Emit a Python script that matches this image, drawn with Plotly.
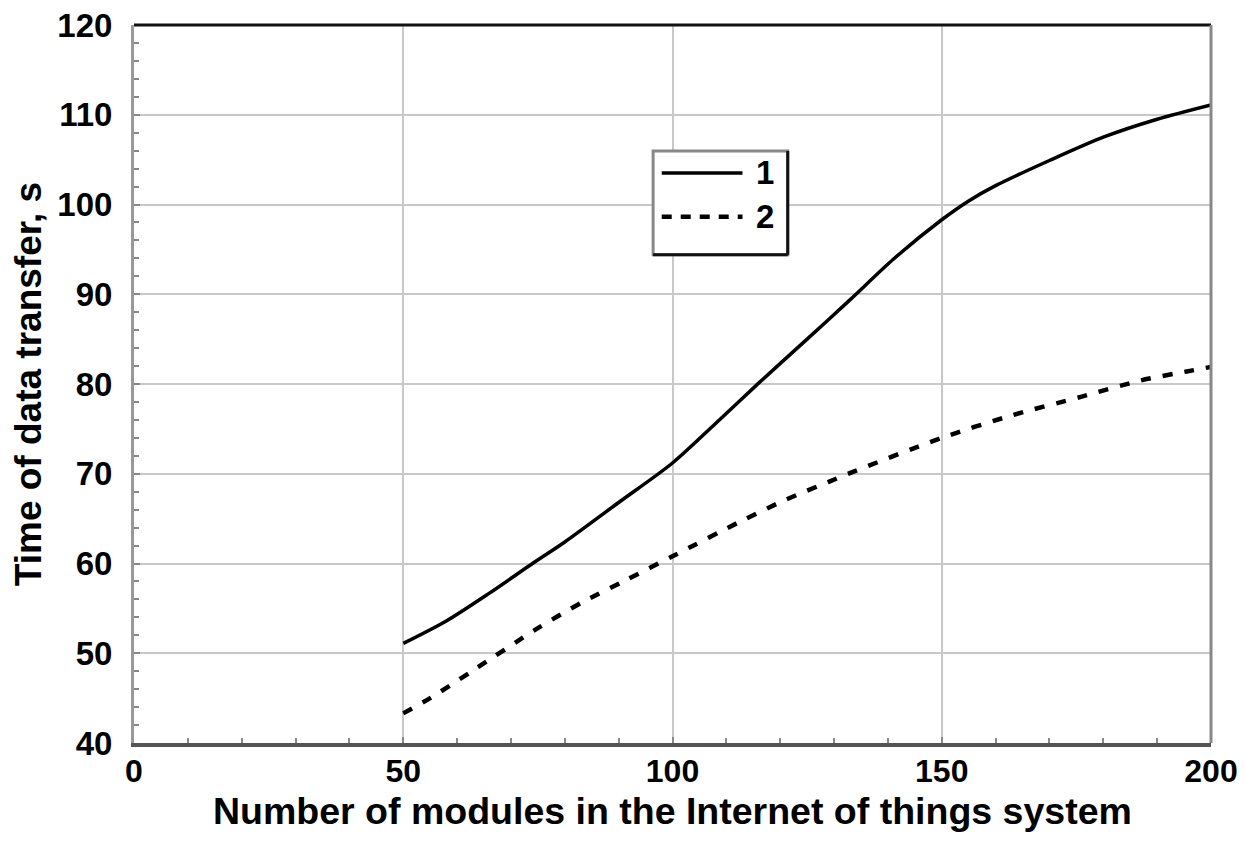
import plotly.graph_objects as go

x1 = [50, 58, 66, 74, 80, 90, 100, 108, 116, 125, 133, 141, 150, 155, 160, 170, 180, 190, 200]
y1 = [51.1, 53.6, 56.7, 60.0, 62.4, 66.8, 71.2, 75.6, 80.1, 85.0, 89.4, 93.9, 98.3, 100.4, 102.1, 104.9, 107.5, 109.5, 111.1]
x2 = [50, 55, 63, 75, 83, 91.5, 100, 113, 121, 129, 133.5, 150, 163, 176, 187, 195.5, 200]
y2 = [43.3, 45.0, 48.1, 52.8, 55.6, 58.2, 60.8, 64.8, 67.1, 69.1, 70.2, 74.0, 76.5, 78.6, 80.4, 81.4, 81.9]
names = ["1", "2"]
xticks = [0, 50, 100, 150, 200]
yticks = [40, 50, 60, 70, 80, 90, 100, 110, 120]

FONT = "Liberation Sans, Arial"
TICKFONT = dict(family=FONT, size=33, color="black", weight="bold")

fig = go.Figure()
fig.add_trace(go.Scatter(x=x1, y=y1, mode="lines", name=names[0],
                         line=dict(color="black", width=3.5, shape="spline", smoothing=0.8), showlegend=False))
fig.add_trace(go.Scatter(x=x2, y=y2, mode="lines", name=names[1],
                         line=dict(color="black", width=4.5, dash="10px,12px", shape="spline", smoothing=0.8), showlegend=False))

axis_common = dict(showgrid=True, gridcolor="#c8c8c8", gridwidth=2, zeroline=False, automargin=False,
                   ticklabeloverflow="allow",
                   ticks="inside", ticklen=6, tickwidth=2, tickcolor="#888")

fig.update_xaxes(range=[0, 200], tickvals=xticks, showline=True, linecolor="#555", linewidth=4,
                 ticklabelstandoff=-3, tickfont=dict(family=FONT, size=32, color="black", weight="bold"),
                 minor=dict(dtick=10, ticks="inside", ticklen=5, tickwidth=2, tickcolor="#888", showgrid=False),
                 **axis_common)
fig.update_yaxes(range=[40, 120], tickvals=yticks, showline=True, linecolor="#999", linewidth=3,
                 ticklabelstandoff=12, tickfont=TICKFONT,
                 minor=dict(dtick=2, ticks="inside", ticklen=5, tickwidth=2, tickcolor="#888", showgrid=False),
                 title=dict(text="Time of data transfer, s",
                            font=dict(family=FONT, size=37, color="black", weight="bold"), standoff=14),
                 **axis_common)

# x-axis title
fig.add_annotation(xref="paper", yref="paper", x=0.5, y=0, yshift=-68, xanchor="center", yanchor="middle",
                   text="Number of modules in the Internet of things system", showarrow=False,
                   font=dict(family=FONT, size=37.5, color="black", weight="bold"))

# top and right border
fig.add_shape(type="line", xref="paper", yref="paper", x0=0, x1=1, y0=1, y1=1, line=dict(color="#111", width=3))
fig.add_shape(type="line", xref="paper", yref="paper", x0=1, x1=1, y0=0, y1=1, line=dict(color="#888", width=3))

# legend box (manual, with shadow-like borders)
lx0, lx1, ly0, ly1 = 0.482, 0.607, 0.68, 0.8245
fig.add_shape(type="rect", xref="paper", yref="paper", x0=lx0, x1=lx1, y0=ly0, y1=ly1,
              line=dict(color="#888", width=3), fillcolor="white")
fig.add_shape(type="line", xref="paper", yref="paper", x0=lx1, x1=lx1, y0=ly0, y1=ly1, line=dict(color="#111", width=3))
fig.add_shape(type="line", xref="paper", yref="paper", x0=lx0, x1=lx1, y0=ly0, y1=ly0, line=dict(color="#111", width=3))
fig.add_shape(type="line", xref="paper", yref="paper", x0=0.490, x1=0.565, y0=0.794, y1=0.794,
              line=dict(color="black", width=3.5))
fig.add_shape(type="line", xref="paper", yref="paper", x0=0.490, x1=0.565, y0=0.733, y1=0.733,
              line=dict(color="black", width=4.5, dash="10px,9px"))
fig.add_annotation(xref="paper", yref="paper", x=0.586, y=0.794, text="1", showarrow=False,
                   xanchor="center", yanchor="middle", font=TICKFONT)
fig.add_annotation(xref="paper", yref="paper", x=0.586, y=0.733, text="2", showarrow=False,
                   xanchor="center", yanchor="middle", font=TICKFONT)

fig.update_layout(width=1245, height=846, margin=dict(l=126, r=42, t=17, b=111),
                  plot_bgcolor="white", paper_bgcolor="white",
                  font=dict(family=FONT, color="black"))

fig.write_html("out.html")
